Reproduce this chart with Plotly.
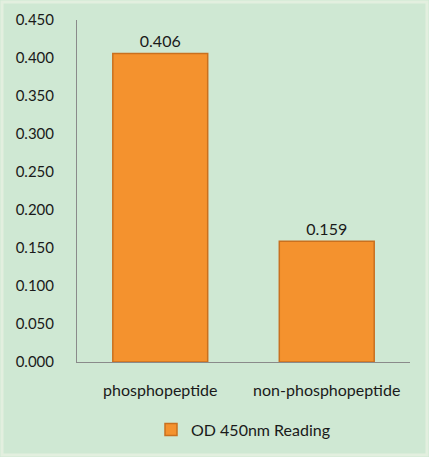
import plotly.graph_objects as go

# Data
categories = ["phosphopeptide", "non-phosphopeptide"]
od_values = [0.406, 0.159]
series_name = "OD 450nm Reading"

fig = go.Figure()

fig.add_trace(go.Bar(
    x=categories,
    y=od_values,
    name=series_name,
    width=0.57,
    text=[f"{v:.3f}" for v in od_values],
    textposition="outside",
    textfont=dict(size=16, color="#1a1a1a", family="Lato"),
    cliponaxis=False,
    marker=dict(color="#f4922e", line=dict(color="#c9701f", width=1.5)),
))

# plot area: x 77..410, y 20..362 in a 429x457 page
fig.update_layout(
    width=429,
    height=457,
    margin=dict(l=77, r=19, t=20, b=95, autoexpand=False),
    paper_bgcolor="#cfe8d3",
    plot_bgcolor="#cfe8d3",
    font=dict(family="Lato", size=16, color="#1a1a1a"),
    showlegend=True,
    legend=dict(
        orientation="h",
        x=0.5, xanchor="center",
        yref="container", y=0.06, yanchor="middle",
        font=dict(size=16),
        itemwidth=30,
    ),
    xaxis=dict(
        showline=True,
        linecolor="#8a8a8a",
        linewidth=1,
        ticks="",
        ticklabelstandoff=14,
        tickfont=dict(size=16),
    ),
    yaxis=dict(
        range=[0, 0.45],
        dtick=0.05,
        tickformat=".3f",
        showgrid=False,
        zeroline=False,
        showline=True,
        linecolor="#8a8a8a",
        linewidth=1,
        ticks="",
        ticklabelstandoff=19,
        tickfont=dict(size=15),
    ),
    shapes=[dict(
        type="rect", xref="paper", yref="paper",
        x0=-75 / 333, y0=-93 / 342, x1=1 + 17 / 333, y1=1 + 18 / 342,
        line=dict(color="#e3efdf", width=3),
        fillcolor="rgba(0,0,0,0)",
        layer="below",
    )],
)

fig.write_html("out.html", config={"displayModeBar": False},
               post_script="document.body.style.margin='0';")
